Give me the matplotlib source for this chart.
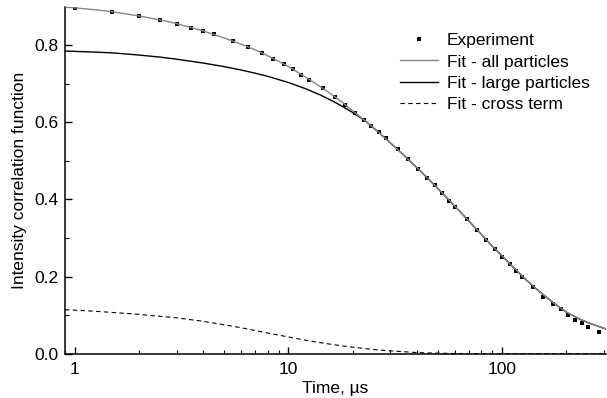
import matplotlib
matplotlib.use('Agg')
import matplotlib.pyplot as plt
from matplotlib.ticker import LogLocator, MultipleLocator, FixedLocator, FixedFormatter, NullFormatter

plt.rcParams['font.family'] = ['Liberation Sans', 'DejaVu Sans']
plt.rcParams['font.size'] = 12.5

# Measured correlation function (multi-tau channels)
t_exp = [1, 1.5, 2, 2.5, 3, 3.5, 4, 4.5,
         5.5, 6.5, 7.5, 8.5, 9.5, 10.5, 11.5, 12.5,
         14.5, 16.5, 18.5, 20.5, 22.5, 24.5, 26.5, 28.5,
         32.5, 36.5, 40.5, 44.5, 48.5, 52.5, 56.5, 60.5,
         68.5, 76.5, 84.5, 92.5, 100.5, 108.5, 116.5, 124.5,
         140.5, 156.5, 172.5, 188.5, 204.5, 220.5, 236.5, 252.5,
         284.5]
g_exp = [0.897, 0.886, 0.875, 0.865, 0.856, 0.845, 0.836, 0.829,
         0.810, 0.796, 0.780, 0.765, 0.752, 0.738, 0.724, 0.711,
         0.689, 0.666, 0.645, 0.624, 0.607, 0.590, 0.574, 0.559,
         0.531, 0.505, 0.479, 0.457, 0.437, 0.417, 0.397, 0.380,
         0.349, 0.321, 0.294, 0.271, 0.252, 0.233, 0.215, 0.200,
         0.172, 0.148, 0.129, 0.115, 0.100, 0.0875, 0.079, 0.070,
         0.056]

# Fit curves sampled on a common time grid
t_fit = [0.9, 1, 1.25, 1.5, 2, 2.5, 3, 4, 5, 6, 7, 8, 10, 12, 14, 16, 18, 20,
         23, 26, 30, 35, 40, 45, 50, 60, 70, 80, 90, 100, 115, 130, 150, 175,
         200, 230, 260, 307]
g_all = [0.899, 0.897, 0.892, 0.887, 0.876, 0.866, 0.856, 0.837, 0.819, 0.803,
         0.788, 0.773, 0.745, 0.718, 0.694, 0.672, 0.651, 0.630,
         0.603, 0.578, 0.547, 0.513, 0.4825, 0.4546, 0.429, 0.3835, 0.344,
         0.3095, 0.279, 0.254, 0.220, 0.191, 0.161, 0.131,
         0.108, 0.090, 0.078, 0.064]
g_large = [0.785, 0.7841, 0.7822, 0.7802, 0.7746, 0.7693, 0.7638, 0.7538, 0.7446, 0.7359,
           0.7275, 0.7194, 0.7034, 0.6876, 0.6719, 0.6562, 0.6408, 0.6257,
           0.603, 0.578, 0.547, 0.513, 0.4825, 0.4546, 0.429, 0.3835, 0.344,
           0.3095, 0.279, 0.254, 0.220, 0.191, 0.161, 0.131,
           0.108, 0.090, 0.078, 0.064]
g_cross = [0.114, 0.113, 0.110, 0.107, 0.102, 0.097, 0.093, 0.084, 0.075, 0.0675,
           0.060, 0.0535, 0.0435, 0.035, 0.029, 0.024, 0.020, 0.017,
           0.013, 0.010, 0.0075, 0.005, 0.003, 0.002, 0.0013, 0.0005, 0.0002,
           0, 0, 0, 0, 0, 0, 0,
           0, 0, 0, 0]

x_ticks = [1, 10, 100]
x_labels = ['1', '10', '100']

fig = plt.figure(figsize=(6.07, 3.98), dpi=100)
ax = fig.add_axes([65 / 607, 1 - 353.7 / 398, (606 - 65) / 607, (353.7 - 6.7) / 398])

ax.plot(t_exp, g_exp, 's', color='black', markersize=3.5, markeredgewidth=0,
        label='Experiment', zorder=3)
ax.plot(t_fit, g_large, '-', color='black', lw=1.0, label='Fit - large particles', zorder=2)
ax.plot(t_fit, g_all, '-', color='#858585', lw=1.0, label='Fit - all particles', zorder=4)
ax.plot(t_fit, g_cross, color='black', lw=0.8, dashes=(4, 3), label='Fit - cross term', zorder=2)

ax.set_xscale('log')
ax.set_xlim(0.9, 307)
ax.set_ylim(0, 0.9)

ax.xaxis.set_major_locator(FixedLocator(x_ticks))
ax.xaxis.set_major_formatter(FixedFormatter(x_labels))
ax.xaxis.set_minor_locator(LogLocator(base=10, subs=range(2, 10)))
ax.xaxis.set_minor_formatter(NullFormatter())
ax.yaxis.set_major_locator(MultipleLocator(0.2))
ax.yaxis.set_minor_locator(MultipleLocator(0.1))
ax.yaxis.set_major_formatter(plt.FuncFormatter(lambda v, p: f'{v:.1f}'))

for side in ['top', 'right']:
    ax.spines[side].set_visible(False)
for side in ['left', 'bottom']:
    ax.spines[side].set_linewidth(1.1)

ax.tick_params(which='major', direction='in', length=5, width=1.0, labelsize=12.5)
ax.tick_params(axis='x', which='major', pad=6)
ax.tick_params(axis='y', which='major', pad=5)
ax.tick_params(which='minor', direction='in', length=3, width=0.8)

ax.set_xlabel('Time, µs', fontsize=12.5, labelpad=3)
ax.set_ylabel('Intensity correlation function', fontsize=12.5, labelpad=5)

handles, labels = ax.get_legend_handles_labels()
order = [0, 2, 1, 3]
ax.legend([handles[i] for i in order], [labels[i] for i in order],
          loc='upper left', bbox_to_anchor=(400 / 607, 1 - 33 / 398),
          bbox_transform=fig.transFigure, frameon=False, numpoints=1,
          borderpad=0, borderaxespad=0, handlelength=2.2, handletextpad=0.48,
          labelspacing=0.36, fontsize=12.5)

fig.savefig('out.png', dpi=100)
